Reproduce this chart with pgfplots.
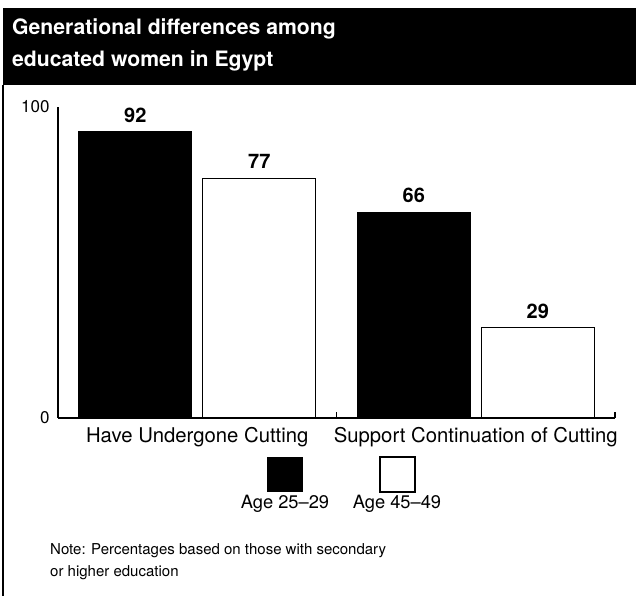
\documentclass[border=0pt]{standalone}
\usepackage{fontspec}
\setmainfont{TeX Gyre Heros}
\usepackage{pgfplots}
\pgfplotsset{compat=1.18}

\begin{document}
\begin{tikzpicture}[x=1bp,y=1bp]
\path[use as bounding box] (0,0) rectangle (636,596);
% title bar and frame
\fill[black] (3,511) rectangle (636,588);
\draw[line width=1.5bp] (3,0) -- (3,511);
\node[anchor=base west, text=white, inner sep=0,
      font=\fontsize{21.2bp}{24bp}\selectfont\bfseries] at (12,561) {Generational differences among};
\node[anchor=base west, text=white, inner sep=0,
      font=\fontsize{21.2bp}{24bp}\selectfont\bfseries] at (12,529) {educated women in Egypt};

\begin{axis}[
    at={(58bp,178bp)}, anchor=south west, scale only axis,
    width=557bp, height=311bp,
    ybar=11bp, bar width=113bp,
    xmin=-0.5, xmax=1.5, ymin=0, ymax=100,
    axis lines*=left,
    axis line style={line width=2bp},
    xtick={0,1},
    xticklabels={Have Undergone Cutting, Support Continuation of Cutting},
    minor xtick={0.5,1.5},
    ytick={0,100},
    major tick length=0pt, minor tick length=6bp, tick align=inside,
    minor tick style={line width=1.5bp, black},
    /pgf/number format/assume math mode=true,
    xticklabel style={font=\fontsize{20.3bp}{22bp}\selectfont, yshift=-6bp},
    yticklabel style={font=\fontsize{17bp}{20bp}\selectfont, xshift=-5bp},
    nodes near coords,
    nodes near coords style={font=\fontsize{20bp}{22bp}\selectfont\bfseries,
                             anchor=south, inner sep=0, yshift=9bp},
]
\addplot[draw=black, line width=1.2bp, fill=black] coordinates {(0,92) (1,66)};
\addplot[draw=black, line width=1.2bp, fill=white] coordinates {(0,77) (1,29)};
\end{axis}

% legend
\fill[black] (267,104) rectangle (303,139);
\draw[line width=1.2bp, fill=white] (380,104) rectangle (415,139);
\node[anchor=base, inner sep=0, font=\fontsize{18.3bp}{20bp}\selectfont] at (285,87) {Age 25--29};
\node[anchor=base, inner sep=0, font=\fontsize{18.3bp}{20bp}\selectfont] at (397,87) {Age 45--49};

% note
\node[anchor=base west, inner sep=0, font=\fontsize{15bp}{18bp}\selectfont] at (50,41) {Note: Percentages based on those with secondary};
\node[anchor=base west, inner sep=0, font=\fontsize{15bp}{18bp}\selectfont] at (50,19) {or higher education};
\end{tikzpicture}
\end{document}
